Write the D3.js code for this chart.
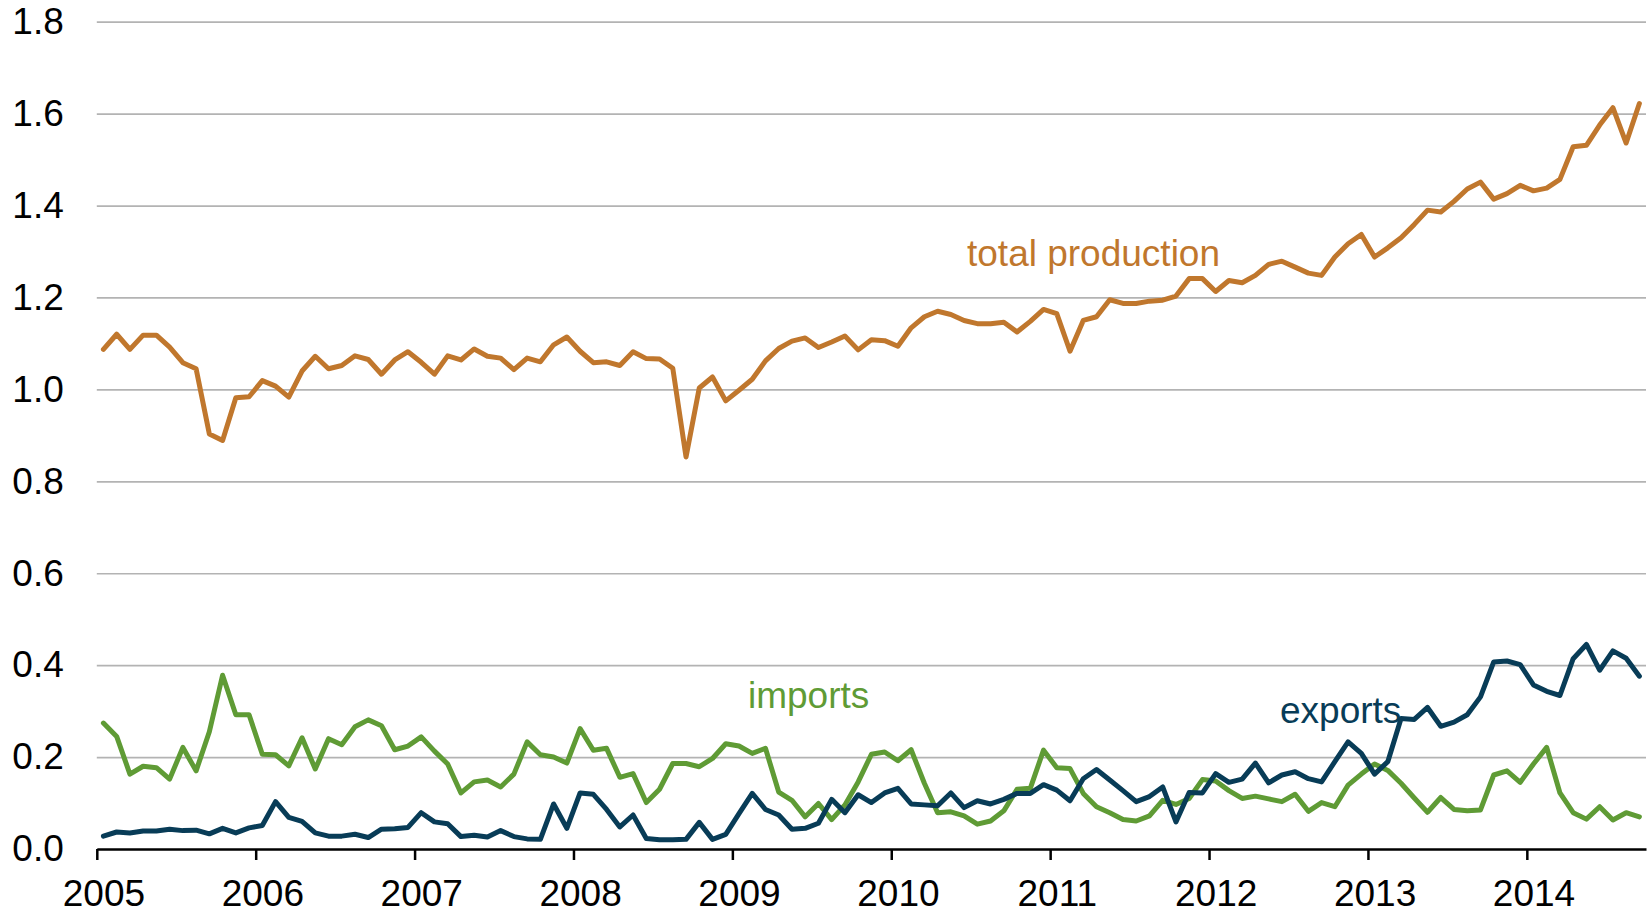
<!DOCTYPE html>
<html lang="en">
  <head>
    <meta charset="UTF-8" />
    <title>Production, imports and exports</title>
    <script src="https://cdn.jsdelivr.net/npm/d3@7/dist/d3.min.js"></script>
    <style>
      body {
        margin: 0;
        background: #fff;
      }
      text {
        font-family: "Liberation Sans", Arial, sans-serif;
      }
      .grid line {
        stroke: #b3b3b3;
        stroke-width: 1.7px;
      }
      .series {
        fill: none;
        stroke-width: 5px;
        stroke-linejoin: round;
        stroke-linecap: round;
      }
    </style>
  </head>
  <body>
    <svg width="1648" height="911"></svg>
    <script>
      const svg = d3.select("svg");

      // monthly, Jan 2005 .. Sep 2014
      const months = d3.utcMonths(new Date(Date.UTC(2005, 0, 1)), new Date(Date.UTC(2014, 9, 1)));
      const years = [2005, 2006, 2007, 2008, 2009, 2010, 2011, 2012, 2013, 2014];
      const yTicks = [0, 0.2, 0.4, 0.6, 0.8, 1.0, 1.2, 1.4, 1.6, 1.8];

      const production = [
        1.087, 1.12, 1.087, 1.118, 1.118, 1.092, 1.058, 1.045, 0.903, 0.889, 0.982, 0.984,
        1.019, 1.007, 0.983, 1.04, 1.072, 1.045, 1.052, 1.073, 1.065, 1.033, 1.064, 1.082,
        1.059, 1.033, 1.073, 1.064, 1.088, 1.072, 1.068, 1.043, 1.068, 1.06, 1.097, 1.114,
        1.083, 1.058, 1.06, 1.052, 1.082, 1.067, 1.066, 1.046, 0.853, 1.003, 1.027, 0.975,
        0.998, 1.022, 1.062, 1.089, 1.105, 1.112, 1.091, 1.103, 1.116, 1.086, 1.108, 1.106,
        1.094, 1.134, 1.158, 1.17, 1.163, 1.15, 1.143, 1.143, 1.146, 1.125, 1.148, 1.174,
        1.165, 1.083, 1.15, 1.158, 1.195, 1.187, 1.187, 1.192, 1.194, 1.203, 1.241, 1.241,
        1.213, 1.237, 1.232, 1.248, 1.272, 1.279, 1.266, 1.253, 1.248, 1.288, 1.317, 1.337,
        1.288, 1.308, 1.33, 1.359, 1.39, 1.386, 1.409, 1.436, 1.451, 1.414, 1.426, 1.444,
        1.432, 1.438, 1.457, 1.528, 1.531, 1.575, 1.613, 1.536, 1.622
      ];

      const imports = [
        0.274, 0.245, 0.163, 0.18, 0.177, 0.152, 0.221, 0.17, 0.255, 0.378, 0.292, 0.292,
        0.206, 0.205, 0.181, 0.242, 0.174, 0.24, 0.227, 0.266, 0.281, 0.268, 0.216, 0.224,
        0.244, 0.213, 0.185, 0.122, 0.146, 0.15, 0.135, 0.163, 0.233, 0.205, 0.2, 0.187,
        0.262, 0.215, 0.219, 0.156, 0.164, 0.101, 0.13, 0.186, 0.186, 0.179, 0.197, 0.229,
        0.224, 0.208, 0.219, 0.124, 0.106, 0.07, 0.099, 0.064, 0.096, 0.146, 0.206, 0.211,
        0.192, 0.216, 0.143, 0.079, 0.081, 0.072, 0.054, 0.061, 0.083, 0.13, 0.132, 0.215,
        0.177, 0.175, 0.121, 0.092, 0.079, 0.064, 0.061, 0.072, 0.106, 0.097, 0.11, 0.151,
        0.148, 0.127, 0.11, 0.115, 0.109, 0.103, 0.119, 0.082, 0.101, 0.092, 0.139, 0.163,
        0.185, 0.171, 0.143, 0.111, 0.08, 0.112, 0.086, 0.083, 0.085, 0.161, 0.17, 0.145,
        0.185, 0.221, 0.122, 0.079, 0.065, 0.092, 0.063, 0.079, 0.07
      ];

      const exportsSeries = [
        0.028, 0.037, 0.035, 0.039, 0.039, 0.043, 0.04, 0.041, 0.033, 0.045, 0.035, 0.046,
        0.051, 0.103, 0.069, 0.06, 0.035, 0.028, 0.028, 0.032, 0.025, 0.043, 0.044, 0.047,
        0.079, 0.059, 0.055, 0.027, 0.03, 0.026, 0.04, 0.027, 0.022, 0.021, 0.098, 0.045,
        0.122, 0.119, 0.086, 0.048, 0.074, 0.023, 0.02, 0.02, 0.021, 0.058, 0.021, 0.032,
        0.077, 0.121, 0.086, 0.074, 0.043, 0.045, 0.056, 0.108, 0.079, 0.118, 0.101, 0.122,
        0.132, 0.098, 0.096, 0.094, 0.122, 0.09, 0.105, 0.098, 0.108, 0.121, 0.121, 0.14,
        0.128, 0.105, 0.153, 0.173, 0.15, 0.127, 0.103, 0.114, 0.135, 0.059, 0.123, 0.122,
        0.164, 0.145, 0.152, 0.187, 0.144, 0.161, 0.168, 0.153, 0.146, 0.19, 0.233, 0.208,
        0.163, 0.19, 0.284, 0.282, 0.308, 0.267, 0.276, 0.292, 0.331, 0.407, 0.409, 0.401,
        0.357, 0.343, 0.334, 0.414, 0.445, 0.389, 0.431, 0.415, 0.376
      ];

      const series = [
        { name: "total production", values: production, color: "#c0772d", lx: 967, ly: 266 },
        { name: "imports", values: imports, color: "#5f9b35", lx: 748, ly: 708 },
        { name: "exports", values: exportsSeries, color: "#083c57", lx: 1280, ly: 723 },
      ];

      const plotLeft = 96.8, plotRight = 1646, plotTop = 21.7, plotBottom = 849;
      const fontSize = 37;

      // one slot per month, points sit in the middle of the slot
      const x = d3.scaleLinear().domain([-0.5, months.length - 0.5]).range([plotLeft, plotRight]);
      const y = d3.scaleLinear().domain([0, 1.8]).range([plotBottom, plotTop]);

      const yearIndex = (yr) => months.findIndex((m) => m.getUTCFullYear() === yr);

      // gridlines + y labels
      svg
        .append("g")
        .attr("class", "grid")
        .attr("transform", `translate(${plotLeft},0)`)
        .call(
          d3.axisLeft(y)
            .tickValues(yTicks)
            .tickFormat(d3.format(".1f"))
            .tickSize(-(plotRight - plotLeft))
            .tickPadding(33)
        )
        .call((g) => g.select(".domain").remove())
        .call((g) => g.selectAll("line").filter((d) => d === 0).remove())
        .call((g) =>
          g.selectAll("text").attr("font-size", fontSize).attr("fill", "#000").attr("font-family", null)
        );

      // x axis: ticks at year boundaries, labels under January
      const xAxis = svg
        .append("g")
        .attr("transform", `translate(0,${plotBottom})`)
        .call(
          d3.axisBottom(x)
            .tickValues(years.map((yr) => yearIndex(yr) - 0.5))
            .tickFormat((d) => months[Math.round(d + 0.5)].getUTCFullYear())
            .tickSize(11)
            .tickSizeOuter(0)
            .tickPadding(20)
        );
      xAxis.select(".domain").attr("stroke", "#000").attr("stroke-width", 2.5);
      xAxis.selectAll("line").attr("stroke", "#000").attr("stroke-width", 2.5);
      xAxis
        .selectAll("text")
        .attr("font-size", fontSize)
        .attr("fill", "#000")
        .attr("font-family", null)
        .attr("x", x(0) - x(-0.5));

      const line = d3
        .line()
        .x((d, i) => x(i))
        .y((d) => y(d));

      svg
        .append("g")
        .selectAll("path")
        .data(series)
        .join("path")
        .attr("class", "series")
        .attr("stroke", (d) => d.color)
        .attr("d", (d) => line(d.values));

      svg
        .append("g")
        .selectAll("text")
        .data(series)
        .join("text")
        .attr("x", (d) => d.lx)
        .attr("y", (d) => d.ly)
        .attr("font-size", fontSize)
        .attr("fill", (d) => d.color)
        .text((d) => d.name);
    </script>
  </body>
</html>
